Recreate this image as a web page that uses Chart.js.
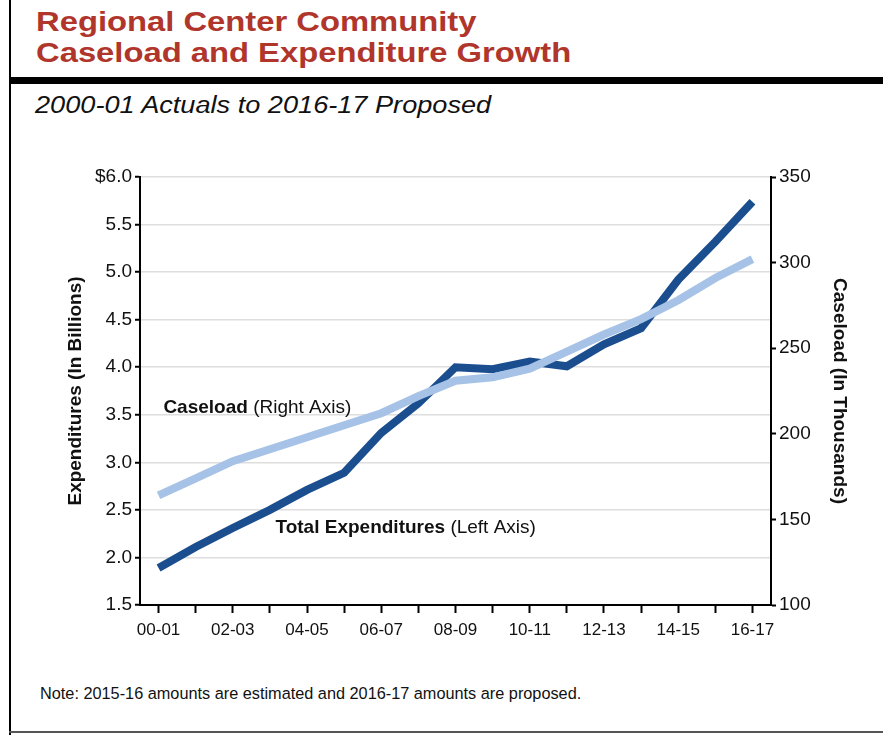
<!DOCTYPE html>
<html>
<head>
<meta charset="utf-8">
<script src="https://cdn.jsdelivr.net/npm/chart.js@4/dist/chart.umd.min.js"></script>
<style>
  body{margin:0;background:#fff;font-family:"Liberation Sans",Arial,sans-serif;}
  .page{position:relative;width:883px;height:735px;overflow:hidden;}
  .lborder{position:absolute;left:9px;top:0;width:2px;height:735px;background:#000;}
  .bborder{position:absolute;left:9px;top:731px;width:874px;height:2px;background:#555;}
  .rule{position:absolute;left:9px;top:77px;width:874px;height:7px;background:#000;}
  .title{position:absolute;left:36px;top:6px;color:#b0352b;font-weight:bold;font-size:28px;line-height:31px;
         transform:scaleX(1.17);transform-origin:left top;white-space:nowrap;}
  .sub{position:absolute;left:35px;top:92px;font-style:italic;font-size:23px;color:#111;
       transform:scaleX(1.18);transform-origin:left top;white-space:nowrap;}
  .note{position:absolute;left:40px;top:684px;font-size:16.3px;color:#111;white-space:nowrap;}
  canvas{position:absolute;left:0;top:0;}
</style>
</head>
<body>
<div class="page">
  <div class="lborder"></div>
  <div class="rule"></div>
  <div class="bborder"></div>
  <div class="title">Regional Center Community<br>Caseload and Expenditure Growth</div>
  <div class="sub">2000-01 Actuals to 2016-17 Proposed</div>
  <div class="note">Note: 2015-16 amounts are estimated and 2016-17 amounts are proposed.</div>
  <canvas id="myLineChart" width="883" height="735"></canvas>
</div>
<script>
// 年度
var years = ["00-01","01-02","02-03","03-04","04-05","05-06","06-07","07-08","08-09",
             "09-10","10-11","11-12","12-13","13-14","14-15","15-16","16-17"];
// 支出 (十億ドル, 左軸)
var expenditures = [1.89, 2.11, 2.31, 2.50, 2.71, 2.89, 3.31, 3.62, 4.00,
                    3.98, 4.06, 4.01, 4.24, 4.41, 4.92, 5.32, 5.74];
// ケース数 (千人, 右軸)
var caseload = [164, 174, 184, 191, 198, 205, 212, 222, 231,
                233, 238, 248, 258, 267, 278, 291, 302];
var leftTicks = [1.5, 6.0, 0.5];
var rightTicks = [100, 350, 50];

var xTickFont = {family:"Liberation Sans", size:17};
var yTickFont = {family:"Liberation Sans", size:19};
var titleFont = {family:"Liberation Sans", size:19, weight:"bold"};

// 注釈ラベル
var labelPlugin = {
    id:'lineLabels',
    afterDatasetsDraw:function(chart){
        var ctx = chart.ctx;
        var x = chart.scales.x, y = chart.scales.y;
        function draw(bold, normal, xi, yv){
            var px = x.getPixelForValue(xi), py = y.getPixelForValue(yv);
            ctx.save();
            ctx.fillStyle = '#111';
            ctx.textBaseline = 'middle';
            ctx.font = 'bold 19px "Liberation Sans"';
            ctx.fillText(bold, px, py);
            var w = ctx.measureText(bold).width;
            ctx.font = '19px "Liberation Sans"';
            ctx.fillText(normal, px + w, py);
            ctx.restore();
        }
        draw('Caseload', ' (Right Axis)', 0.13, 3.57);
        draw('Total Expenditures', ' (Left Axis)', 3.15, 2.31);
    }
};

var ctx = document.getElementById("myLineChart");
var myLineChart = new Chart(ctx, {
    type: 'line',
    data: {
        labels: years,
        datasets: [{
            label: 'Caseload',
            data: caseload,
            yAxisID: 'y2',
            borderColor: '#a6c2e6',
            borderWidth: 8,
            pointRadius: 0,
            tension: 0
        },{
            label: 'Total Expenditures',
            data: expenditures,
            yAxisID: 'y',
            borderColor: '#1b4e8f',
            borderWidth: 8,
            pointRadius: 0,
            tension: 0
        }]
    },
    options: {
        responsive: false,
        animation: false,
        events: [],
        layout: {padding: {left: 60, right: 28, top: 177, bottom: 0}},
        plugins: {legend: {display: false}, tooltip: {enabled: false}},
        scales: {
            x: {
                offset: true,
                grid: {offset: false, drawOnChartArea: false, drawTicks: true, tickLength: 8, tickColor: '#000', tickWidth: 2},
                border: {color: '#000', width: 2},
                ticks: {
                    autoSkip: false, maxRotation: 0, color: '#111', font: xTickFont, padding: 7,
                    callback: function(v, i){ return i % 2 === 0 ? years[i] : ''; }
                },
                afterFit: function(s){ s.height = 130; }
            },
            y: {
                position: 'left',
                min: leftTicks[0], max: leftTicks[1],
                grid: {color: '#dedede', lineWidth: 1.5, drawTicks: true, tickLength: 5, tickColor: '#000', tickWidth: 2},
                border: {color: '#000', width: 2},
                ticks: {
                    stepSize: leftTicks[2], color: '#111', font: yTickFont, padding: 3,
                    callback: function(v){ return (v === 6 ? '$' : '') + v.toFixed(1); }
                },
                title: {display: true, text: 'Expenditures (In Billions)', color: '#111', font: titleFont},
                afterFit: function(s){ s.width = 80; }
            },
            y2: {
                position: 'right',
                min: rightTicks[0], max: rightTicks[1],
                grid: {drawOnChartArea: false, drawTicks: true, tickLength: 5, tickColor: '#000', tickWidth: 2},
                border: {color: '#000', width: 2},
                ticks: {stepSize: rightTicks[2], color: '#111', font: yTickFont, padding: 3},
                title: {display: true, text: 'Caseload (In Thousands)', color: '#111', font: titleFont},
                afterFit: function(s){ s.width = 84; }
            }
        }
    },
    plugins: [labelPlugin]
});
</script>
</body>
</html>
